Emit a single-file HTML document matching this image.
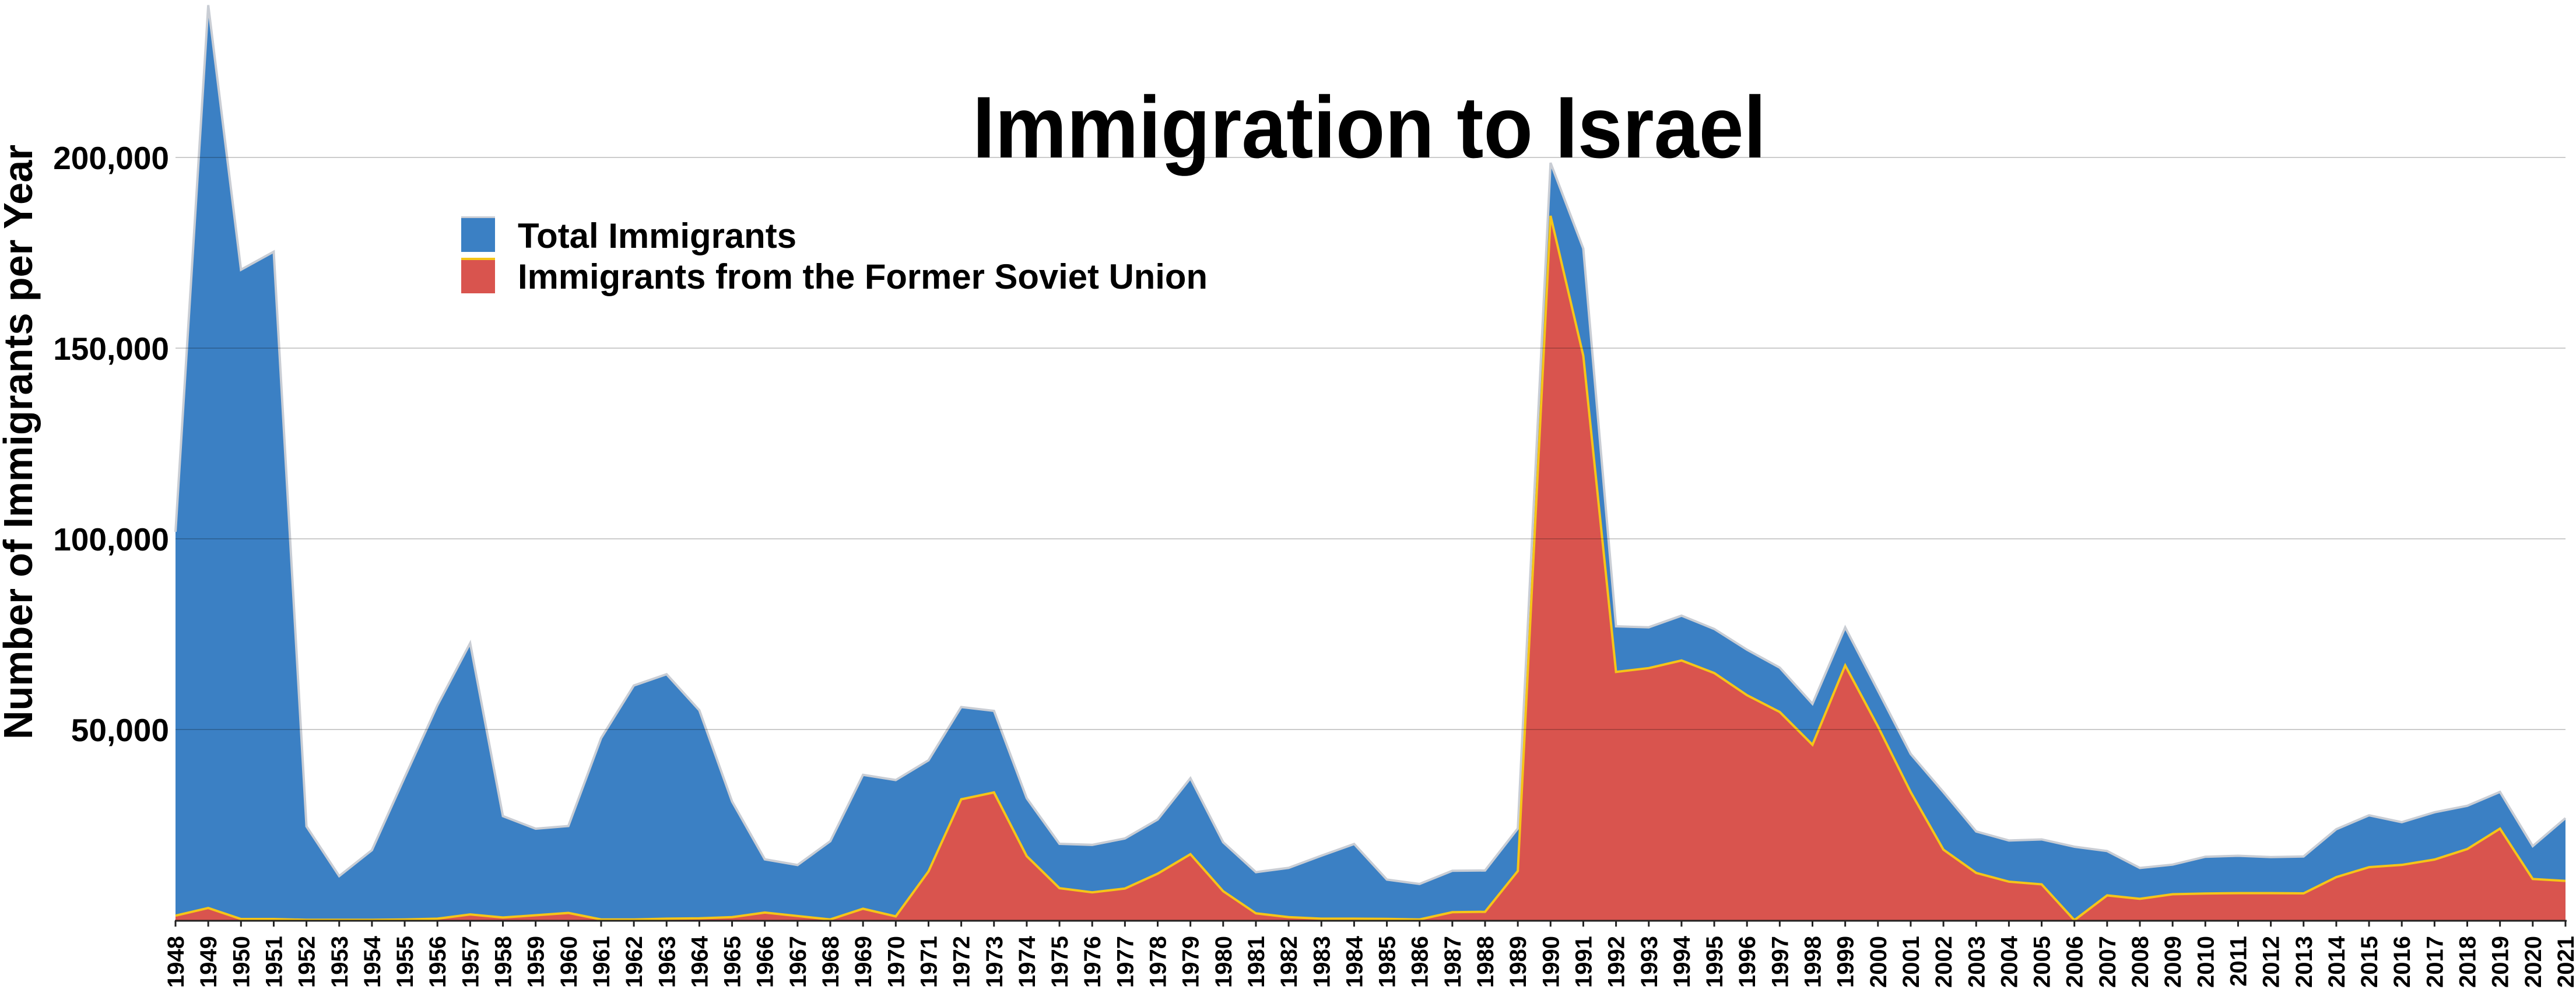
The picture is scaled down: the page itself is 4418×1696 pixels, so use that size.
<!DOCTYPE html>
<html><head><meta charset="utf-8"><style>html,body{margin:0;padding:0;background:#fff}svg{display:block}</style></head>
<body>
<svg width="4418" height="1696" viewBox="0 0 4418 1696" xmlns="http://www.w3.org/2000/svg" font-family="'Liberation Sans', Arial, sans-serif" font-weight="bold">
<rect width="4418" height="1696" fill="#fff"/>
<g transform="translate(301,1578) scale(56.15,-0.00654)">
<polygon fill="#3b80c4" points="0,0 0,101828 1,239954 2,170563 3,175279 4,24610 5,11575 6,18370 7,37478 8,56330 9,72634 10,27290 11,23988 12,24692 13,47735 14,61533 15,64489 16,55036 17,31115 18,15957 19,14469 20,20703 21,38111 22,36750 23,41930 24,55888 25,54886 26,31981 27,20028 28,19754 29,21429 30,26394 31,37222 32,20428 33,12599 34,13723 35,16906 36,19981 37,10642 38,9505 39,12965 40,13034 41,24050 42,198600 43,176100 44,77057 45,76805 46,79844 47,76361 48,70919 49,66221 50,56730 51,76766 52,60192 53,43580 54,33570 55,23268 56,20898 57,21180 58,19264 59,18131 60,13699 61,14574 62,16633 63,16892 64,16557 65,16700 66,23850 67,27500 68,25700 69,28300 70,30000 71,33640 72,19420 73,26760 73,0"/>
<polyline fill="none" stroke="#c9cdd4" stroke-width="4" vector-effect="non-scaling-stroke" points="0,101828 1,239954 2,170563 3,175279 4,24610 5,11575 6,18370 7,37478 8,56330 9,72634 10,27290 11,23988 12,24692 13,47735 14,61533 15,64489 16,55036 17,31115 18,15957 19,14469 20,20703 21,38111 22,36750 23,41930 24,55888 25,54886 26,31981 27,20028 28,19754 29,21429 30,26394 31,37222 32,20428 33,12599 34,13723 35,16906 36,19981 37,10642 38,9505 39,12965 40,13034 41,24050 42,198600 43,176100 44,77057 45,76805 46,79844 47,76361 48,70919 49,66221 50,56730 51,76766 52,60192 53,43580 54,33570 55,23268 56,20898 57,21180 58,19264 59,18131 60,13699 61,14574 62,16633 63,16892 64,16557 65,16700 66,23850 67,27500 68,25700 69,28300 70,30000 71,33640 72,19420 73,26760"/>
<polygon fill="#d9544e" points="0,0 0,1200 1,3200 2,300 3,300 4,100 5,100 6,100 7,200 8,400 9,1500 10,700 11,1300 12,1900 13,200 14,200 15,400 16,500 17,800 18,2000 19,1100 20,200 21,3000 22,1000 23,12800 24,31700 25,33500 26,16800 27,8400 28,7300 29,8300 30,12200 31,17300 32,7600 33,1800 34,800 35,400 36,400 37,350 38,200 39,2100 40,2200 41,12900 42,184700 43,148000 44,65100 45,66100 46,68100 47,64800 48,59000 49,54600 50,46000 51,66800 52,50800 53,33600 54,18500 55,12400 56,10100 57,9400 58,0 59,6500 60,5600 61,6800 62,7000 63,7100 64,7100 65,7030 66,11300 67,13900 68,14500 69,15900 70,18650 71,24000 72,10800 73,10300 73,0"/>
<polyline fill="none" stroke="#f5c518" stroke-width="4" vector-effect="non-scaling-stroke" points="0,1200 1,3200 2,300 3,300 4,100 5,100 6,100 7,200 8,400 9,1500 10,700 11,1300 12,1900 13,200 14,200 15,400 16,500 17,800 18,2000 19,1100 20,200 21,3000 22,1000 23,12800 24,31700 25,33500 26,16800 27,8400 28,7300 29,8300 30,12200 31,17300 32,7600 33,1800 34,800 35,400 36,400 37,350 38,200 39,2100 40,2200 41,12900 42,184700 43,148000 44,65100 45,66100 46,68100 47,64800 48,59000 49,54600 50,46000 51,66800 52,50800 53,33600 54,18500 55,12400 56,10100 57,9400 58,0 59,6500 60,5600 61,6800 62,7000 63,7100 64,7100 65,7030 66,11300 67,13900 68,14500 69,15900 70,18650 71,24000 72,10800 73,10300"/>
</g>
<g stroke="rgba(0,0,0,0.2)" stroke-width="2">
<line x1="301" y1="1251" x2="4400" y2="1251"/>
<line x1="301" y1="924" x2="4400" y2="924"/>
<line x1="301" y1="597" x2="4400" y2="597"/>
<line x1="301" y1="270" x2="4400" y2="270"/>
</g>
<line x1="300" y1="1579" x2="4402" y2="1579" stroke="#222" stroke-width="3"/>
<line x1="299.5" y1="1584" x2="4403" y2="1584" stroke="#222" stroke-width="10" stroke-dasharray="3 53.15"/>
<g font-size="55" text-anchor="end" fill="#000">
<text x="290" y="290">200,000</text>
<text x="290" y="617">150,000</text>
<text x="290" y="944">100,000</text>
<text x="290" y="1271">50,000</text>
</g>
<text transform="translate(55,758) rotate(-90)" text-anchor="middle" font-size="70" textLength="1020" lengthAdjust="spacingAndGlyphs">Number of Immigrants per Year</text>
<text x="1668" y="270" font-size="150" textLength="1361" lengthAdjust="spacingAndGlyphs">Immigration to Israel</text>
<rect x="791" y="373" width="58" height="59" fill="#3b80c4"/>
<rect x="791" y="371" width="58" height="3" fill="#c9cdd4"/>
<rect x="791" y="444" width="58" height="59" fill="#d9544e"/>
<rect x="791" y="442" width="58" height="4" fill="#f5c518"/>
<text x="888" y="425" font-size="60" textLength="478" lengthAdjust="spacingAndGlyphs">Total Immigrants</text>
<text x="888" y="495" font-size="60" textLength="1183" lengthAdjust="spacingAndGlyphs">Immigrants from the Former Soviet Union</text>
<g transform="translate(315,1605) rotate(-90)" font-size="40" text-anchor="end" fill="#000">
<text y="0">1948</text><text y="56.15">1949</text><text y="112.3">1950</text><text y="168.45">1951</text><text y="224.6">1952</text><text y="280.75">1953</text><text y="336.9">1954</text><text y="393.05">1955</text><text y="449.2">1956</text><text y="505.35">1957</text>
<text y="561.5">1958</text><text y="617.65">1959</text><text y="673.8">1960</text><text y="729.95">1961</text><text y="786.1">1962</text><text y="842.25">1963</text><text y="898.4">1964</text><text y="954.55">1965</text><text y="1010.7">1966</text><text y="1066.85">1967</text>
<text y="1123">1968</text><text y="1179.15">1969</text><text y="1235.3">1970</text><text y="1291.45">1971</text><text y="1347.6">1972</text><text y="1403.75">1973</text><text y="1459.9">1974</text><text y="1516.05">1975</text><text y="1572.2">1976</text><text y="1628.35">1977</text>
<text y="1684.5">1978</text><text y="1740.65">1979</text><text y="1796.8">1980</text><text y="1852.95">1981</text><text y="1909.1">1982</text><text y="1965.25">1983</text><text y="2021.4">1984</text><text y="2077.55">1985</text><text y="2133.7">1986</text><text y="2189.85">1987</text>
<text y="2246">1988</text><text y="2302.15">1989</text><text y="2358.3">1990</text><text y="2414.45">1991</text><text y="2470.6">1992</text><text y="2526.75">1993</text><text y="2582.9">1994</text><text y="2639.05">1995</text><text y="2695.2">1996</text><text y="2751.35">1997</text>
<text y="2807.5">1998</text><text y="2863.65">1999</text><text y="2919.8">2000</text><text y="2975.95">2001</text><text y="3032.1">2002</text><text y="3088.25">2003</text><text y="3144.4">2004</text><text y="3200.55">2005</text><text y="3256.7">2006</text><text y="3312.85">2007</text>
<text y="3369">2008</text><text y="3425.15">2009</text><text y="3481.3">2010</text><text y="3537.45">2011</text><text y="3593.6">2012</text><text y="3649.75">2013</text><text y="3705.9">2014</text><text y="3762.05">2015</text><text y="3818.2">2016</text><text y="3874.35">2017</text>
<text y="3930.5">2018</text><text y="3986.65">2019</text><text y="4042.8">2020</text><text y="4098.95">2021</text>
</g>
</svg>
</body></html>
